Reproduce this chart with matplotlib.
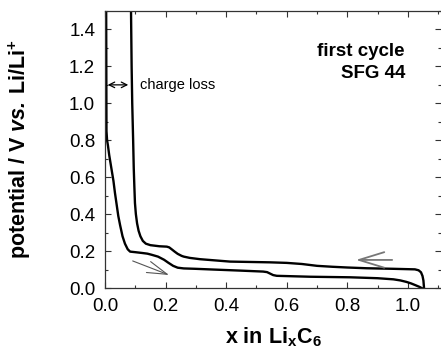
import numpy as np
import matplotlib
matplotlib.use('Agg')
import matplotlib.pyplot as plt
from matplotlib.ticker import MultipleLocator

plt.rcParams['font.family'] = 'Liberation Sans'
plt.rcParams['mathtext.fontset'] = 'custom'
plt.rcParams['mathtext.rm'] = 'Liberation Sans'
plt.rcParams['mathtext.bf'] = 'Liberation Sans:bold'
plt.rcParams['mathtext.it'] = 'Liberation Sans:italic'
plt.rcParams['mathtext.bfit'] = 'Liberation Sans:bold:italic'

# first discharge (lithiation), x from 0 up to ~1.05
dis_x = [0.004, 0.005, 0.007, 0.010, 0.014, 0.022, 0.028, 0.033, 0.044, 0.050, 0.058, 0.066,
         0.075, 0.083, 0.100, 0.121, 0.140, 0.154, 0.175, 0.195, 0.209, 0.225, 0.240, 0.260,
         0.297, 0.357, 0.450, 0.522, 0.535, 0.545, 0.555, 0.567, 0.677, 0.809, 0.900, 0.952,
         0.975, 0.995, 1.010, 1.025, 1.038, 1.045]
dis_y = [1.50, 0.85, 0.80, 0.77, 0.72, 0.64, 0.58, 0.515, 0.39, 0.34, 0.28, 0.24,
         0.21, 0.197, 0.194, 0.190, 0.186, 0.180, 0.170, 0.153, 0.137, 0.120, 0.110, 0.106,
         0.104, 0.100, 0.094, 0.089, 0.086, 0.078, 0.070, 0.066, 0.061, 0.058, 0.053, 0.047,
         0.041, 0.033, 0.025, 0.015, 0.006, 0.0]

# first charge (de-lithiation), x from ~1.05 back down to ~0.09
chg_x = [1.053, 1.051, 1.048, 1.043, 1.035, 1.023, 0.950, 0.863, 0.800, 0.750, 0.700, 0.650,
         0.600, 0.545, 0.413, 0.314, 0.280, 0.260, 0.253, 0.240, 0.230, 0.220, 0.212, 0.204,
         0.180, 0.150, 0.135, 0.125, 0.117, 0.111, 0.106, 0.102, 0.099, 0.097, 0.095, 0.093,
         0.090, 0.088, 0.086]
chg_y = [0.0, 0.040, 0.065, 0.085, 0.096, 0.101, 0.104, 0.107, 0.111, 0.115, 0.120, 0.130,
         0.136, 0.139, 0.143, 0.156, 0.163, 0.170, 0.174, 0.185, 0.197, 0.210, 0.220, 0.224,
         0.226, 0.232, 0.240, 0.255, 0.280, 0.310, 0.350, 0.400, 0.460, 0.550, 0.650, 0.800,
         1.000, 1.200, 1.500]

fig = plt.figure(figsize=(4.41, 3.63), dpi=100)
ax = fig.add_axes([0.238, 0.2066, 0.762, 0.7631])

ax.plot(dis_x, dis_y, color='black', lw=1.7, solid_joinstyle='round')
ax.plot(chg_x, chg_y, color='black', lw=1.7, solid_joinstyle='round')

ax.set_xlim(0, 1.109)
ax.set_ylim(0, 1.5)
ax.xaxis.set_minor_locator(MultipleLocator(0.1))
ax.yaxis.set_minor_locator(MultipleLocator(0.1))
ax.set_xticks([0, 0.2, 0.4, 0.6, 0.8, 1.0])
ax.set_xticklabels(['0.0', '0.2', '0.4', '0.6', '0.8', '1.0'])
ax.set_yticks([0, 0.2, 0.4, 0.6, 0.8, 1.0, 1.2, 1.4])
ax.set_yticklabels(['0.0', '0.2', '0.4', '0.6', '0.8', '1.0', '1.2', '1.4'])
ax.tick_params(which='both', direction='in', top=True, right=True, width=0.8, color='#333333')
ax.tick_params(which='major', length=4.5, labelsize=13.5, pad=7)
ax.tick_params(which='minor', length=2.2)
for s in ax.spines.values():
    s.set_linewidth(0.9)
    s.set_color('#333333')
ax.spines['right'].set_visible(False)

ax.set_xlabel(r'$\mathbf{x\ in\ Li_{x}C_{6}}$', fontsize=15.5, labelpad=8)
ax.set_ylabel(r'$\mathbf{potential\ /\ V}\ \mathbfit{vs.}\:\mathbf{Li/Li^{+}}$', fontsize=15.5)
ax.yaxis.set_label_coords(-0.215, 0.5)

ax.text(0.99, 1.28, 'first cycle', fontsize=13.5, fontweight='bold', ha='right', va='center')
ax.text(0.99, 1.16, 'SFG 44', fontsize=13.5, fontweight='bold', ha='right', va='center')

# charge loss
ax.annotate('', xy=(0.0, 1.1), xytext=(0.086, 1.1),
            arrowprops=dict(arrowstyle='<->', color='black', lw=0.9, mutation_scale=10))
ax.text(0.115, 1.1, 'charge loss', fontsize=10.5, ha='left', va='center')

# direction arrows
ax.annotate('', xy=(0.22, 0.065), xytext=(0.083, 0.152),
            arrowprops=dict(arrowstyle='->,head_length=1.2,head_width=0.35', color='#555555', lw=0.8,
                            mutation_scale=12))
ax.annotate('', xy=(0.819, 0.152), xytext=(0.957, 0.152),
            arrowprops=dict(arrowstyle='->,head_length=1.3,head_width=0.4', color='#777777', lw=1.3,
                            mutation_scale=14))

fig.savefig('out.png', dpi=100)
